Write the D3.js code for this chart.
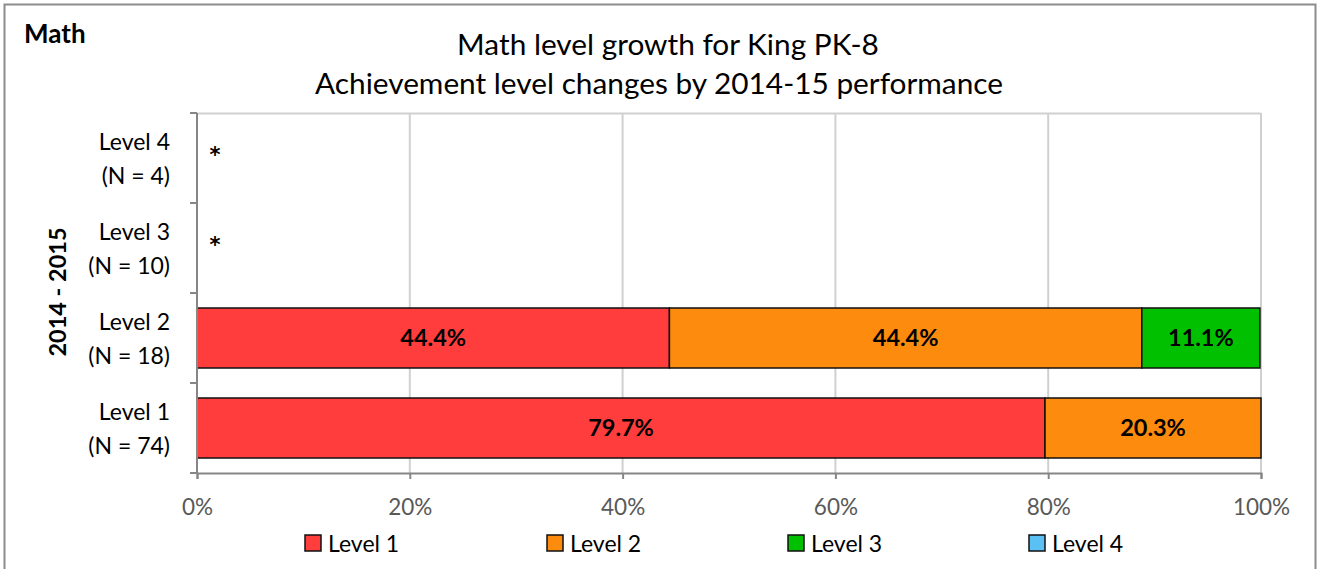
<!DOCTYPE html>
<html>
<head>
<meta charset="utf-8">
<script src="https://cdn.jsdelivr.net/npm/d3@7"></script>
<style>
  body { margin: 0; background: #fff; }
  svg { display: block; font-family: Lato, "Open Sans", sans-serif; }
</style>
</head>
<body>
<svg id="chart" width="1320" height="569"></svg>
<script>
// rows, top to bottom as drawn
var rows = ["Level 4", "Level 3", "Level 2", "Level 1"];
var counts = [4, 10, 18, 74];
var suppressed = [true, true, false, false];
var level1 = [0, 0, 44.4, 79.7];
var level2 = [0, 0, 44.4, 20.3];
var level3 = [0, 0, 11.1, 0];
var level4 = [0, 0, 0, 0];
var seriesNames = ["Level 1", "Level 2", "Level 3", "Level 4"];
var seriesColors = ["#ff3d3d", "#fd8b0d", "#00c000", "#5bc1f5"];
var xTicks = [0, 20, 40, 60, 80, 100];

var svg = d3.select("#chart");
var width = +svg.attr("width"), height = +svg.attr("height");

// outer frame (bottom edge falls outside the picture)
svg.append("path")
  .attr("d", "M4.5," + (height + 2) + "V4.5H1315.5V" + (height + 2))
  .attr("fill", "none")
  .attr("stroke", "#8c8c8c")
  .attr("stroke-width", 2);

var x = d3.scaleLinear().domain([0, 100]).range([197, 1261]);
var y = d3.scaleBand().domain(rows).range([113, 473])
  .paddingInner(1 / 3).paddingOuter(1 / 6);

// build stacked table
var table = rows.map(function (r, i) {
  return { row: r, "Level 1": level1[i], "Level 2": level2[i], "Level 3": level3[i], "Level 4": level4[i] };
});
var stack = d3.stack().keys(seriesNames)(table);

// gridlines
svg.append("g")
  .selectAll("line")
  .data(xTicks.slice(1))
  .enter().append("line")
    .attr("x1", function (d) { return x(d); })
    .attr("x2", function (d) { return x(d); })
    .attr("y1", 113)
    .attr("y2", 473)
    .attr("stroke", "#d0d0d0")
    .attr("stroke-width", 2);

svg.append("line")
  .attr("x1", x(0)).attr("x2", x(100))
  .attr("y1", 113.5).attr("y2", 113.5)
  .attr("stroke", "#d0d0d0").attr("stroke-width", 2);

// bars
var layer = svg.append("g").selectAll("g")
  .data(stack)
  .enter().append("g")
    .attr("fill", function (d, i) { return seriesColors[i]; });

layer.selectAll("rect")
  .data(function (d) { return d.filter(function (s) { return s[1] - s[0] > 0; }); })
  .enter().append("rect")
    .attr("x", function (d) { return x(d[0]); })
    .attr("width", function (d) { return x(d[1]) - x(d[0]); })
    .attr("y", function (d) { return y(d.data.row); })
    .attr("height", y.bandwidth())
    .attr("stroke", "#111")
    .attr("stroke-width", 1.5);

layer.selectAll("text")
  .data(function (d) { return d.filter(function (s) { return s[1] - s[0] > 0; }); })
  .enter().append("text")
    .attr("x", function (d) { return (x(d[0]) + x(d[1])) / 2; })
    .attr("y", function (d) { return y(d.data.row) + y.bandwidth() / 2; })
    .attr("dy", "0.36em")
    .attr("text-anchor", "middle")
    .attr("fill", "#000")
    .style("font-size", "23.5px")
    .style("font-weight", "bold")
    .text(function (d) { return (d[1] - d[0]).toFixed(1) + "%"; });

// asterisks for suppressed rows
svg.append("g").selectAll("text")
  .data(rows.filter(function (r, i) { return suppressed[i]; }))
  .enter().append("text")
    .attr("x", x(0) + 18)
    .attr("y", function (d) { return y(d) + y.bandwidth() / 2 + 4; })
    .attr("text-anchor", "middle")
    .style("font-family", "'DejaVu Sans', sans-serif")
    .style("font-size", "21px")
    .style("font-weight", "bold")
    .text("*");

// x axis
var xAxis = svg.append("g")
  .attr("transform", "translate(0,473)")
  .call(d3.axisBottom(x).tickValues(xTicks).tickSize(6).tickPadding(20)
    .tickFormat(function (d) { return d + "%"; }));
xAxis.select(".domain").attr("stroke", "#868686").attr("stroke-width", 2);
xAxis.selectAll(".tick line").attr("stroke", "#868686").attr("stroke-width", 2);
xAxis.selectAll("text").attr("fill", "#595959")
  .style("font-size", "22.5px").style("font-family", "Lato, sans-serif");

// y axis (category boundaries)
var yAxisG = svg.append("g");
yAxisG.append("line")
  .attr("x1", x(0)).attr("x2", x(0)).attr("y1", 113).attr("y2", 473)
  .attr("stroke", "#868686").attr("stroke-width", 2);
yAxisG.selectAll(".bound")
  .data(d3.range(rows.length + 1))
  .enter().append("line")
    .attr("class", "bound")
    .attr("x1", x(0) - 7).attr("x2", x(0))
    .attr("y1", function (i) { return 113 + i * y.step(); })
    .attr("y2", function (i) { return 113 + i * y.step(); })
    .attr("stroke", "#868686").attr("stroke-width", 2);

var ylab = yAxisG.selectAll(".ylab")
  .data(rows)
  .enter().append("text")
    .attr("class", "ylab")
    .attr("text-anchor", "end")
    .attr("fill", "#000")
    .style("font-size", "23px");
ylab.append("tspan")
  .attr("x", 170)
  .attr("y", function (d) { return y(d) + y.bandwidth() / 2 - 8; })
  .text(function (d) { return d; });
ylab.append("tspan")
  .attr("x", 170)
  .attr("y", function (d) { return y(d) + y.bandwidth() / 2 + 26; })
  .text(function (d, i) { return "(N = " + counts[i] + ")"; });

svg.append("text")
  .attr("transform", "translate(66,292) rotate(-90)")
  .attr("text-anchor", "middle")
  .style("font-size", "23.5px")
  .style("font-weight", "bold")
  .text("2014 - 2015");

// titles
svg.append("text")
  .attr("x", 24).attr("y", 43)
  .style("font-size", "26px").style("font-weight", "bold")
  .text("Math");

svg.append("text")
  .attr("x", 668).attr("y", 55)
  .attr("text-anchor", "middle")
  .style("font-size", "29.8px")
  .text("Math level growth for King PK-8");
svg.append("text")
  .attr("x", 659).attr("y", 94)
  .attr("text-anchor", "middle")
  .style("font-size", "29.8px")
  .text("Achievement level changes by 2014-15 performance");

// legend
var legendX = [305, 547, 788, 1029];
var legend = svg.append("g").selectAll("g")
  .data(seriesNames)
  .enter().append("g")
    .attr("transform", function (d, i) { return "translate(" + legendX[i] + ",535)"; });
legend.append("rect")
  .attr("width", 16).attr("height", 16)
  .attr("fill", function (d, i) { return seriesColors[i]; })
  .attr("stroke", "#111").attr("stroke-width", 1.5);
legend.append("text")
  .attr("x", 23).attr("y", 17)
  .style("font-size", "23px")
  .text(function (d) { return d; });
</script>
</body>
</html>
